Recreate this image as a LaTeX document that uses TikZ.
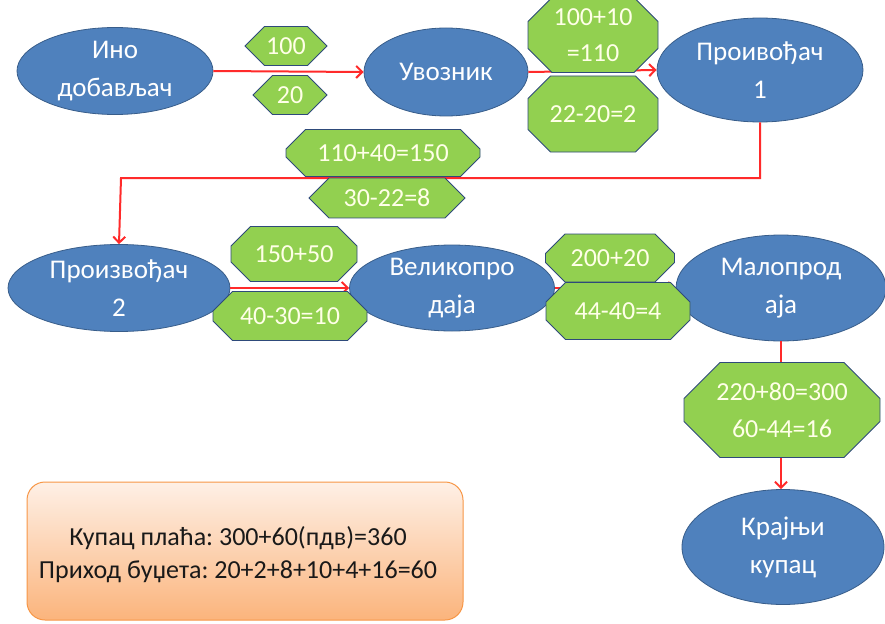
\documentclass[tikz,border=0pt]{standalone}
\usepackage{fontspec}
\setmainfont{Carlito}
\usetikzlibrary{shapes.geometric,shapes.misc,arrows.meta}
\definecolor{ellfill}{HTML}{4F81BD}
\definecolor{elldraw}{HTML}{385D8A}
\definecolor{octfill}{HTML}{92D050}
\definecolor{octdraw}{HTML}{2E4A7A}
\definecolor{arrred}{HTML}{FF2A2A}
\definecolor{boxdraw}{HTML}{F79646}
\definecolor{boxtop}{HTML}{FEF0E6}
\definecolor{boxbot}{HTML}{FBB47C}
\definecolor{octtext}{HTML}{FFFFE8}
\tikzset{
  party/.style={ellipse, fill=ellfill, draw=elldraw, line width=0.8pt, inner sep=0pt,
    text=white, align=center, font=\fontsize{27}{38}\selectfont\frenchspacing},
  oct/.style={chamfered rectangle, chamfered rectangle xsep=13pt, chamfered rectangle ysep=11pt,
    fill=octfill, draw=octdraw, line width=0.8pt, inner sep=0pt,
    text=octtext, align=center, font=\fontsize{26}{36}\selectfont},
  flow/.style={draw=arrred, line width=2pt, -{Straight Barb[length=6pt,width=12pt,line width=2pt]}},
  sumbox/.style={rounded corners=18pt, draw=boxdraw, line width=1pt,
    top color=boxtop, bottom color=boxbot, text=black!90, align=center,
    font=\fontsize{26}{33}\selectfont\frenchspacing},
}
\begin{document}
\begin{tikzpicture}[x=1pt,y=-1pt]
\useasboundingbox (0,0) rectangle (885,623);
% parties
\node[party, minimum width=196pt, minimum height=87pt] (ino) at (115,71) {Ино\\добављач};
\node[party, minimum width=164pt, minimum height=88pt] (uvz) at (446,72) {Увозник};
\node[party, minimum width=206pt, minimum height=104pt] (p1) at (760,70) {Проивођач\\1};
\node[party, minimum width=222pt, minimum height=87pt] (p2) at (119,288) {Произвођач\\2};
\node[party, minimum width=205pt, minimum height=86pt] (vel) at (452,288) {Великопро\\даја};
\node[party, minimum width=210pt, minimum height=106pt] (mal) at (781,288) {Малопрод\\аја};
\node[party, minimum width=202pt, minimum height=115pt] (kup) at (783,547) {Крајњи\\купац};
% connectors
\coordinate (bend1) at (760,178);
\coordinate (bend2) at (121,178);
\draw[flow] (ino.east) -- (uvz.west);
\draw[flow] (uvz.east) -- (p1.west);
\draw[flow] (p1.south) -- (bend1) -- (bend2) -- (p2.north);
\draw[flow] (p2.east) -- (vel.west);
\draw[flow] (vel.east) -- (mal.west);
\draw[flow] (mal.south) -- (mal.south |- kup.north);
% amounts
\node[oct, minimum width=82pt, minimum height=37pt] (a1) at (286,46) {100};
\node[oct, minimum width=74pt, minimum height=38pt] (a2) at (290,95) {20};
\node[oct, minimum width=130pt, minimum height=61pt] (b1) at (593,35) {100+10\\=110};
\node[oct, minimum width=130pt, minimum height=76pt, chamfered rectangle ysep=14pt] (b2) at (593,114) {22-20=2};
\node[oct, minimum width=194pt, minimum height=47pt, chamfered rectangle xsep=22pt] (c1) at (383,153) {110+40=150};
\node[oct, minimum width=156pt, minimum height=37pt] (c2) at (387,198) {30-22=8};
\node[oct, minimum width=126pt, minimum height=55pt] (d1) at (294,254) {150+50};
\node[oct, minimum width=154pt, minimum height=49pt] (d2) at (290,316) {40-30=10};
\node[oct, minimum width=129pt, minimum height=48pt] (e1) at (610,258) {200+20};
\node[oct, minimum width=144pt, minimum height=57pt] (e2) at (618,311) {44-40=4};
\node[oct, minimum width=196pt, minimum height=86pt, chamfered rectangle xsep=16pt, chamfered rectangle ysep=20pt, font=\fontsize{26}{37}\selectfont] (f1) at (782,410) {220+80=300\\60-44=16};
% summary
\node[sumbox, minimum width=436pt, minimum height=138pt] (sum) at (245,551) {};
\node[text=black!90, align=center, font=\fontsize{26}{33}\selectfont\frenchspacing] (sumtxt) at (238,555)
  {Купац плаћа: 300+60(пдв)=360\\Приход буџета: 20+2+8+10+4+16=60};
\end{tikzpicture}
\end{document}
